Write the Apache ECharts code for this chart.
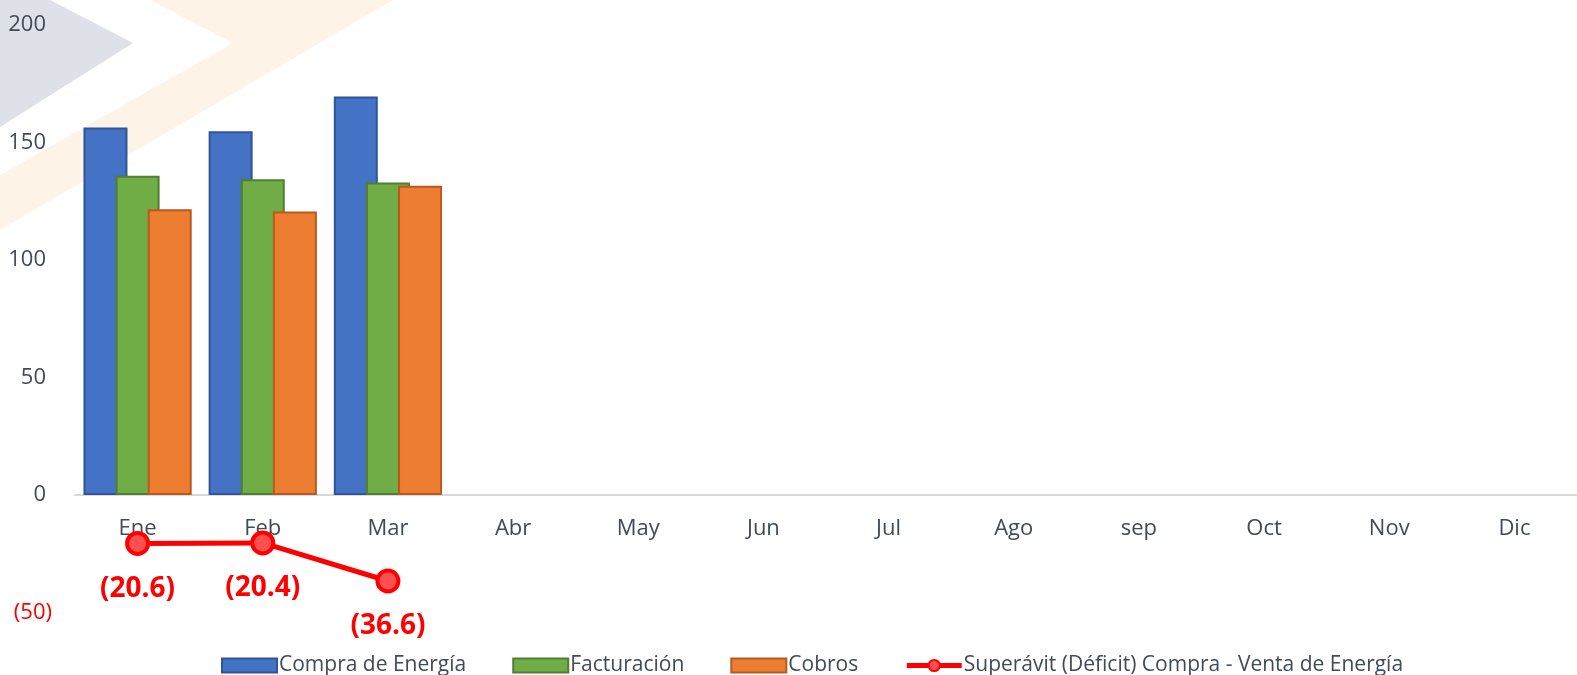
<!DOCTYPE html>
<html>
<head>
<meta charset="utf-8">
<script src="https://cdn.jsdelivr.net/npm/echarts@6/dist/echarts.min.js"></script>
<style>html,body{margin:0;padding:0;background:#fff}#c{width:1577px;height:675px}</style>
</head>
<body>
<div id="c"></div>
<script>
const months = ['Ene','Feb','Mar','Abr','May','Jun','Jul','Ago','sep','Oct','Nov','Dic'];
const compra = [156.4, 154.8, 169.6, null, null, null, null, null, null, null, null, null];
const facturacion = [135.8, 134.4, 133.0, null, null, null, null, null, null, null, null, null];
const cobros = [121.6, 120.6, 131.6, null, null, null, null, null, null, null, null, null];
const superavit = [-20.6, -20.4, -36.6, null, null, null, null, null, null, null, null, null];
const yTicks = { min: -50, max: 200, interval: 50 };

const txt = '#404B5A';
const font = 'Open Sans';
const chart = echarts.init(document.getElementById('c'), null, { renderer: 'canvas' });
const fmt = v => v < 0 ? '(' + Math.abs(v).toFixed(1) + ')' : v.toFixed(1);

chart.setOption({
  animation: false,
  textStyle: { fontFamily: font },
  graphic: [
    { type: 'polygon', z: -10, silent: true,
      shape: { points: [[0,0],[50,0],[133,43],[0,127]] },
      style: { fill: '#DEE1E7' } },
    { type: 'polygon', z: -10, silent: true,
      shape: { points: [[150,0],[393,0],[0,230],[0,175],[233,43]] },
      style: { fill: '#FEF3E7' } }
  ],
  grid: { left: 75, right: -19, top: 25, bottom: 62.5, containLabel: false },
  legend: {
    left: 216, top: 650,
    itemWidth: 55, itemHeight: 14, itemGap: 46,
    textStyle: { fontSize: 21, color: txt, fontFamily: font, padding: [0,0,0,-3] },
    lineStyle: { width: 5 },
    data: [
      { name: 'Compra de Energía', icon: 'rect' },
      { name: 'Facturación', icon: 'rect' },
      { name: 'Cobros', icon: 'rect' },
      { name: 'Superávit (Déficit) Compra - Venta de Energía' }
    ]
  },
  xAxis: {
    type: 'category', data: months,
    axisLine: { onZero: true, lineStyle: { color: '#D9D9D9', width: 2 } },
    axisTick: { show: false },
    axisLabel: { fontSize: 22, color: txt, margin: -95, fontFamily: font },
    splitLine: { show: false }
  },
  yAxis: {
    type: 'value', min: yTicks.min, max: yTicks.max, interval: yTicks.interval,
    axisLine: { show: false }, axisTick: { show: false },
    splitLine: { show: false },
    axisLabel: {
      margin: 29, fontSize: 22, color: txt, fontFamily: font,
      formatter: v => v < 0 ? '{neg|(' + Math.abs(v) + ')}' : String(v),
      rich: { neg: { color: '#FF0000', fontSize: 22, fontFamily: font, padding: [0, -6, 0, 0] } }
    }
  },
  series: [
    { name: 'Compra de Energía', type: 'bar', data: compra, barWidth: 44, barGap: '-27%',
      itemStyle: { color: '#4472C4', borderColor: '#2F5597', borderWidth: 2 } },
    { name: 'Facturación', type: 'bar', data: facturacion, barWidth: 44, barGap: '-27%',
      itemStyle: { color: '#70AD47', borderColor: '#507E32', borderWidth: 2 } },
    { name: 'Cobros', type: 'bar', data: cobros, barWidth: 44, barGap: '-27%',
      itemStyle: { color: '#ED7D31', borderColor: '#B85A1F', borderWidth: 2 } },
    { name: 'Superávit (Déficit) Compra - Venta de Energía', type: 'line', data: superavit,
      z: 5, symbol: 'circle', symbolSize: 21,
      lineStyle: { color: '#FF0000', width: 5 },
      itemStyle: { color: '#FF5050', borderColor: '#FF0000', borderWidth: 4 },
      label: { show: true, position: 'bottom', distance: 19, fontSize: 28, fontWeight: 'bold',
        color: '#FF0000', fontFamily: font, formatter: p => fmt(p.value) } }
  ]
});
</script>
</body>
</html>
